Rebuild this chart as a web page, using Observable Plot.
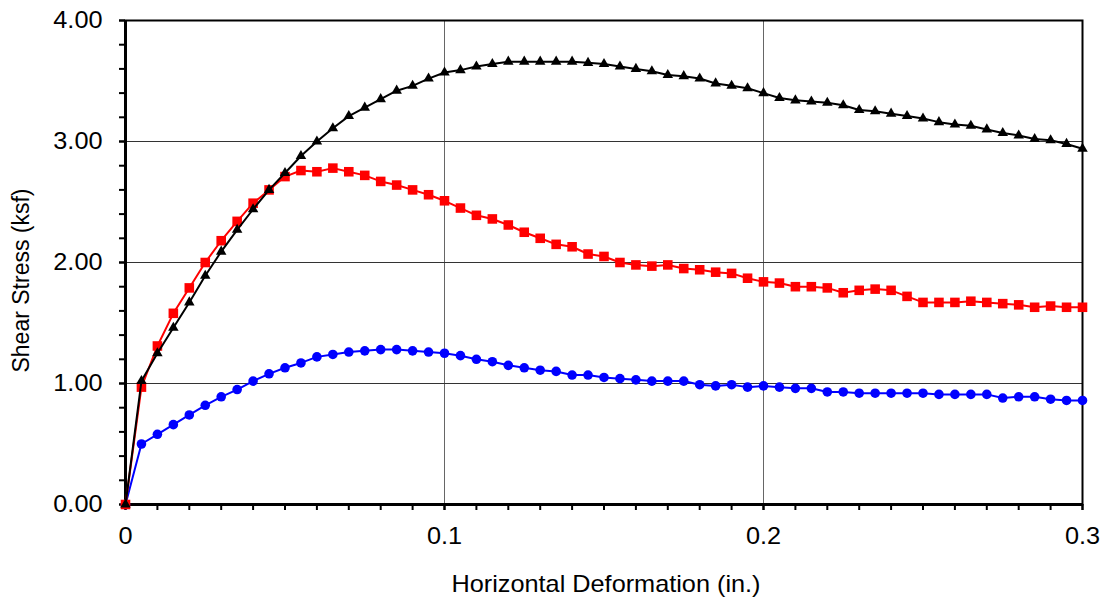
<!DOCTYPE html>
<html>
<head>
<meta charset="utf-8">
<script src="https://cdn.jsdelivr.net/npm/d3@7"></script>
<script src="https://cdn.jsdelivr.net/npm/@observablehq/plot@0.6"></script>
<style>
  html, body { margin: 0; padding: 0; background: white; }
</style>
</head>
<body>
<div id="chart"></div>
<script>
const deformation = [0, 0.005, 0.01, 0.015, 0.02, 0.025, 0.03, 0.035, 0.04, 0.045, 0.05, 0.055, 0.06, 0.065, 0.07, 0.075, 0.08, 0.085, 0.09, 0.095, 0.1, 0.105, 0.11, 0.115, 0.12, 0.125, 0.13, 0.135, 0.14, 0.145, 0.15, 0.155, 0.16, 0.165, 0.17, 0.175, 0.18, 0.185, 0.19, 0.195, 0.2, 0.205, 0.21, 0.215, 0.22, 0.225, 0.23, 0.235, 0.24, 0.245, 0.25, 0.255, 0.26, 0.265, 0.27, 0.275, 0.28, 0.285, 0.29, 0.295, 0.3];

const stressBlack = [0, 1.02, 1.25, 1.46, 1.67, 1.89, 2.09, 2.27, 2.44, 2.60, 2.74, 2.88, 3.00, 3.11, 3.21, 3.28, 3.35, 3.42, 3.46, 3.52, 3.57, 3.59, 3.62, 3.64, 3.66, 3.66, 3.66, 3.66, 3.66, 3.65, 3.64, 3.62, 3.60, 3.58, 3.55, 3.54, 3.52, 3.48, 3.46, 3.44, 3.40, 3.36, 3.34, 3.33, 3.32, 3.30, 3.26, 3.25, 3.23, 3.21, 3.19, 3.16, 3.14, 3.13, 3.10, 3.07, 3.05, 3.02, 3.01, 2.98, 2.94];

const stressRed = [0, 0.97, 1.31, 1.58, 1.79, 2.00, 2.18, 2.34, 2.49, 2.60, 2.71, 2.76, 2.75, 2.78, 2.75, 2.72, 2.67, 2.64, 2.60, 2.56, 2.51, 2.45, 2.39, 2.36, 2.31, 2.25, 2.20, 2.15, 2.13, 2.07, 2.05, 2.00, 1.98, 1.97, 1.98, 1.95, 1.94, 1.92, 1.91, 1.87, 1.84, 1.83, 1.80, 1.80, 1.79, 1.75, 1.77, 1.78, 1.77, 1.72, 1.67, 1.67, 1.67, 1.68, 1.67, 1.66, 1.65, 1.63, 1.64, 1.63, 1.63];

const stressBlue = [0, 0.50, 0.58, 0.66, 0.74, 0.82, 0.89, 0.95, 1.02, 1.08, 1.13, 1.17, 1.22, 1.24, 1.26, 1.27, 1.28, 1.28, 1.27, 1.26, 1.25, 1.23, 1.20, 1.18, 1.15, 1.13, 1.11, 1.10, 1.07, 1.07, 1.05, 1.04, 1.03, 1.02, 1.02, 1.02, 0.99, 0.98, 0.99, 0.97, 0.98, 0.97, 0.96, 0.96, 0.93, 0.93, 0.92, 0.92, 0.92, 0.92, 0.92, 0.91, 0.91, 0.91, 0.91, 0.88, 0.89, 0.89, 0.87, 0.86, 0.86];

const xTickValues = [0, 0.1, 0.2, 0.3];
const xTickLabels = ["0", "0.1", "0.2", "0.3"];
const yTickValues = [0, 1, 2, 3, 4];
const yTickLabels = ["0.00", "1.00", "2.00", "3.00", "4.00"];
const xMinorTicks = [0, 0.01, 0.02, 0.03, 0.04, 0.05, 0.06, 0.07, 0.08, 0.09, 0.1, 0.11, 0.12, 0.13, 0.14, 0.15, 0.16, 0.17, 0.18, 0.19, 0.2, 0.21, 0.22, 0.23, 0.24, 0.25, 0.26, 0.27, 0.28, 0.29, 0.3];
const yMinorTicks = [0, 0.2, 0.4, 0.6, 0.8, 1, 1.2, 1.4, 1.6, 1.8, 2, 2.2, 2.4, 2.6, 2.8, 3, 3.2, 3.4, 3.6, 3.8, 4];
const xGrid = [0.1, 0.2];
const yGrid = [1, 2, 3];
const xTitle = "Horizontal Deformation (in.)";
const yTitle = "Shear Stress (ksf)";

const mk = arr => deformation.map((d, i) => ({x: d, y: arr[i]}));
const blue = mk(stressBlue), red = mk(stressRed), black = mk(stressBlack);

const FS = 23;

const chart = Plot.plot({
  width: 1104,
  height: 604,
  marginLeft: 125,
  marginRight: 22,
  marginTop: 20,
  marginBottom: 100,
  style: {fontFamily: "Arial, 'Liberation Sans', sans-serif", fontSize: FS + "px", background: "white", color: "black"},
  x: {domain: [0, 0.3]},
  y: {domain: [0, 4]},
  marks: [
    Plot.gridX({ticks: xGrid, stroke: "#666", strokeOpacity: 1, strokeWidth: 1}),
    Plot.gridY({ticks: yGrid, stroke: "#333", strokeOpacity: 1, strokeWidth: 1}),
    Plot.axisX({ticks: xMinorTicks, tickSize: 6, strokeWidth: 2, tickFormat: () => "", label: null}),
    Plot.axisX({ticks: xTickValues, tickSize: 6, tickPadding: 17, strokeWidth: 2,
      tickFormat: d => xTickLabels[xTickValues.indexOf(d)], label: null, fontSize: FS}),
    Plot.axisY({ticks: yMinorTicks, tickSize: 6, strokeWidth: 2, tickFormat: () => "", label: null}),
    Plot.axisY({ticks: yTickValues, tickSize: 6, tickPadding: 17, strokeWidth: 2,
      tickFormat: d => yTickLabels[yTickValues.indexOf(d)], label: null, fontSize: FS}),
    Plot.frame({stroke: "black", strokeWidth: 2}),
    Plot.ruleX([0], {stroke: "black", strokeWidth: 3}),
    Plot.ruleY([0], {stroke: "black", strokeWidth: 3}),
    Plot.line(blue, {x: "x", y: "y", stroke: "#0000ff", strokeWidth: 2}),
    Plot.dot(blue, {x: "x", y: "y", symbol: "circle", r: 4.8, fill: "#0000ff", stroke: "none"}),
    Plot.line(red, {x: "x", y: "y", stroke: "#ff0000", strokeWidth: 2}),
    Plot.dot(red, {x: "x", y: "y", symbol: "square", r: 5.4, fill: "#ff0000", stroke: "none"}),
    Plot.line(black, {x: "x", y: "y", stroke: "black", strokeWidth: 2}),
    Plot.dot(black, {x: "x", y: "y", symbol: "triangle", r: 3.9, fill: "black", stroke: "none"}),
    Plot.text([yTitle], {frameAnchor: "left", dx: -104, dy: 18, rotate: -90, text: d => d, fontSize: FS, fill: "black", textAnchor: "middle", lineAnchor: "middle"}),
    Plot.text([xTitle], {frameAnchor: "bottom", dx: 2, dy: 80, text: d => d, fontSize: FS, fill: "black", textAnchor: "middle", lineAnchor: "middle"})
  ]
});

document.getElementById("chart").appendChild(chart);

// the reference's lettering is slightly wider than tall: stretch horizontal texts about their anchor
chart.querySelectorAll("text").forEach(t => {
  const tr = t.getAttribute("transform") || "";
  if (tr.includes("rotate")) return;
  if (!t.textContent) return;
  const b = t.getBBox();
  const anchor = getComputedStyle(t).textAnchor;
  const ax = anchor === "end" ? b.x + b.width : anchor === "middle" ? b.x + b.width / 2 : b.x;
  t.setAttribute("transform", `${tr} translate(${ax},0) scale(1.1,1) translate(${-ax},0)`.trim());
});
</script>
</body>
</html>
